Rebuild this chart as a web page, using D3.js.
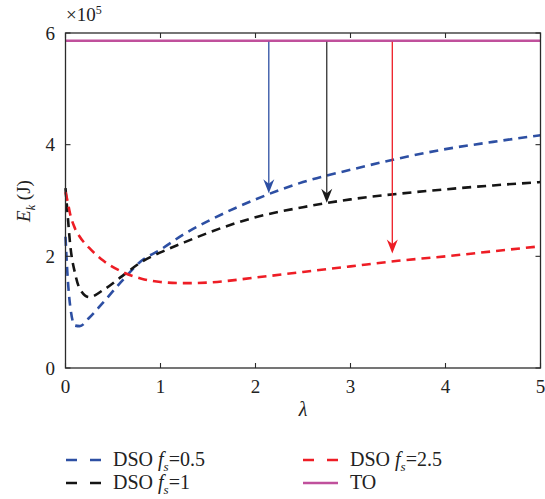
<!DOCTYPE html>
<html>
<head>
<meta charset="utf-8">
<script src="https://cdn.jsdelivr.net/npm/d3@7"></script>
<style>
  html, body { margin: 0; padding: 0; background: #fff; }
  svg { display: block; }
</style>
</head>
<body>
<script>
// Kinetic energy E_k versus λ (values in units of 1e5 J)
const lambdaVals = [0, 0.02, 0.05, 0.1, 0.15, 0.25, 0.4, 0.6, 0.8, 1.0, 1.25, 1.5, 2.0, 2.5, 3.0, 3.5, 4.0, 4.5, 5.0];
const dsoF05 = [2.35, 1.7, 1.1, 0.76, 0.75, 0.9, 1.18, 1.57, 1.92, 2.12, 2.4, 2.63, 3.02, 3.33, 3.55, 3.75, 3.92, 4.05, 4.17];
const dsoF1  = [3.22, 2.8, 2.2, 1.7, 1.42, 1.27, 1.4, 1.65, 1.9, 2.07, 2.25, 2.42, 2.7, 2.88, 3.02, 3.12, 3.2, 3.27, 3.33];
const dsoF25 = [3.15, 3.0, 2.75, 2.5, 2.35, 2.15, 1.92, 1.72, 1.6, 1.54, 1.52, 1.53, 1.62, 1.72, 1.82, 1.92, 2.0, 2.09, 2.18];
const toLambda = [0, 5];
const toVals = [5.86, 5.86];

// Arrows from the TO level down to each DSO curve
const arrowLambda = [2.14, 2.75, 3.44];
const arrowEnd = [3.13, 2.96, 2.05];

const xTicks = [0, 1, 2, 3, 4, 5];
const yTicks = [0, 2, 4, 6];

const FONT = "'Liberation Serif', 'Times New Roman', serif";
const W = 545, H = 499;
const svg = d3.select("body").append("svg")
  .attr("width", W).attr("height", H)
  .style("font-family", FONT);

const x = d3.scaleLinear().domain([0, 5]).range([65.5, 540.5]);
const y = d3.scaleLinear().domain([0, 6]).range([368, 33]);

const axisColor = "#2b2b2b";
const textColor = "#222";

const series = [
  { name: "f05", vals: dsoF05, color: "#2d4fa3" },
  { name: "f1", vals: dsoF1, color: "#151515" },
  { name: "f25", vals: dsoF25, color: "#ee1d25" }
];

const line = d3.line()
  .x(d => x(d[0]))
  .y(d => y(d[1]))
  .curve(d3.curveMonotoneX);

// TO line
svg.append("path")
  .datum(toLambda.map((l, i) => [l, toVals[i]]))
  .attr("d", line)
  .attr("fill", "none")
  .attr("stroke", "#c0509c")
  .attr("stroke-width", 2.4);

// DSO curves
series.forEach(s => {
  svg.append("path")
    .datum(lambdaVals.map((l, i) => [l, s.vals[i]]))
    .attr("d", line)
    .attr("fill", "none")
    .attr("stroke", s.color)
    .attr("stroke-width", 2.6)
    .attr("stroke-dasharray", "9,6");
});

// Arrows
const arrowColors = ["#2d4fa3", "#333333", "#ee1d25"];
const headColors = ["#2d4fa3", "#1a1a1a", "#ee1d25"];
arrowLambda.forEach((l, i) => {
  const ax = x(l), y0 = y(toVals[0]) + 1, y1 = y(arrowEnd[i]);
  const g = svg.append("g");
  g.append("line")
    .attr("x1", ax).attr("x2", ax)
    .attr("y1", y0).attr("y2", y1 - 6)
    .attr("stroke", arrowColors[i])
    .attr("stroke-width", 1.3);
  g.append("path")
    .attr("d", `M${ax},${y1} L${ax - 5.5},${y1 - 14} L${ax},${y1 - 9.5} L${ax + 5.5},${y1 - 14} Z`)
    .attr("fill", headColors[i]);
});

// Frame
const [x0, x1] = x.range();
const [yb, yt] = y.range();
svg.append("rect")
  .attr("x", x0).attr("y", yt)
  .attr("width", x1 - x0).attr("height", yb - yt)
  .attr("fill", "none")
  .attr("stroke", axisColor)
  .attr("stroke-width", 1.3);

// Inward ticks on all four sides
const tl = 5;
xTicks.forEach(t => {
  svg.append("line").attr("x1", x(t)).attr("x2", x(t)).attr("y1", yb).attr("y2", yb - tl)
    .attr("stroke", axisColor).attr("stroke-width", 1.1);
  svg.append("line").attr("x1", x(t)).attr("x2", x(t)).attr("y1", yt).attr("y2", yt + tl)
    .attr("stroke", axisColor).attr("stroke-width", 1.1);
});
yTicks.forEach(t => {
  svg.append("line").attr("x1", x0).attr("x2", x0 + tl).attr("y1", y(t)).attr("y2", y(t))
    .attr("stroke", axisColor).attr("stroke-width", 1.1);
  svg.append("line").attr("x1", x1).attr("x2", x1 - tl).attr("y1", y(t)).attr("y2", y(t))
    .attr("stroke", axisColor).attr("stroke-width", 1.1);
});

// Tick labels
const fs = 19;
svg.append("g").selectAll("text").data(xTicks).join("text")
  .attr("x", d => x(d)).attr("y", 393)
  .attr("text-anchor", "middle")
  .attr("font-size", fs)
  .attr("fill", textColor)
  .text(d => d);
svg.append("g").selectAll("text").data(yTicks).join("text")
  .attr("x", 55).attr("y", d => y(d) + 6.5)
  .attr("text-anchor", "end")
  .attr("font-size", fs)
  .attr("fill", textColor)
  .text(d => d);

// Exponent label
const ex = svg.append("text").attr("x", 66).attr("y", 21).attr("font-size", 19).attr("fill", textColor);
ex.append("tspan").text("×10");
ex.append("tspan").attr("font-size", 12).attr("dy", -7).text("5");

// Axis titles
svg.append("text")
  .attr("x", x(2.5)).attr("y", 416)
  .attr("text-anchor", "middle")
  .attr("font-size", 20)
  .attr("font-style", "italic")
  .attr("fill", textColor)
  .text("λ");

const yl = svg.append("text")
  .attr("transform", "translate(30,201) rotate(-90)")
  .attr("text-anchor", "middle")
  .attr("font-size", 19)
  .attr("fill", textColor);
yl.append("tspan").attr("font-style", "italic").text("E");
yl.append("tspan").attr("font-style", "italic").attr("font-size", 12).attr("dy", 5).text("k");
yl.append("tspan").attr("dy", -5).text(" (J)");

// Legend
const legendItems = [
  { label: "0.5", color: "#2d4fa3", dashed: true, col: 0, row: 0 },
  { label: "2.5", color: "#ee1d25", dashed: true, col: 1, row: 0 },
  { label: "1", color: "#151515", dashed: true, col: 0, row: 1 },
  { label: null, color: "#c0509c", dashed: false, col: 1, row: 1 }
];
const colX = [66, 303], rowY = [460, 483];
legendItems.forEach(it => {
  const lx = colX[it.col], ly = rowY[it.row];
  svg.append("line")
    .attr("x1", lx).attr("x2", lx + 35)
    .attr("y1", ly).attr("y2", ly)
    .attr("stroke", it.color)
    .attr("stroke-width", it.dashed ? 2.6 : 2.4)
    .attr("stroke-dasharray", it.dashed ? "11,13" : null);
  const t = svg.append("text").attr("x", lx + 47).attr("y", ly + 6).attr("font-size", 20).attr("fill", textColor);
  if (it.label === null) {
    t.text("TO");
  } else {
    t.append("tspan").text("DSO ");
    t.append("tspan").attr("font-style", "italic").text("f");
    t.append("tspan").attr("font-style", "italic").attr("font-size", 13).attr("dy", 5).text("s");
    t.append("tspan").attr("dy", -5).text("=" + it.label);
  }
});
</script>
</body>
</html>
